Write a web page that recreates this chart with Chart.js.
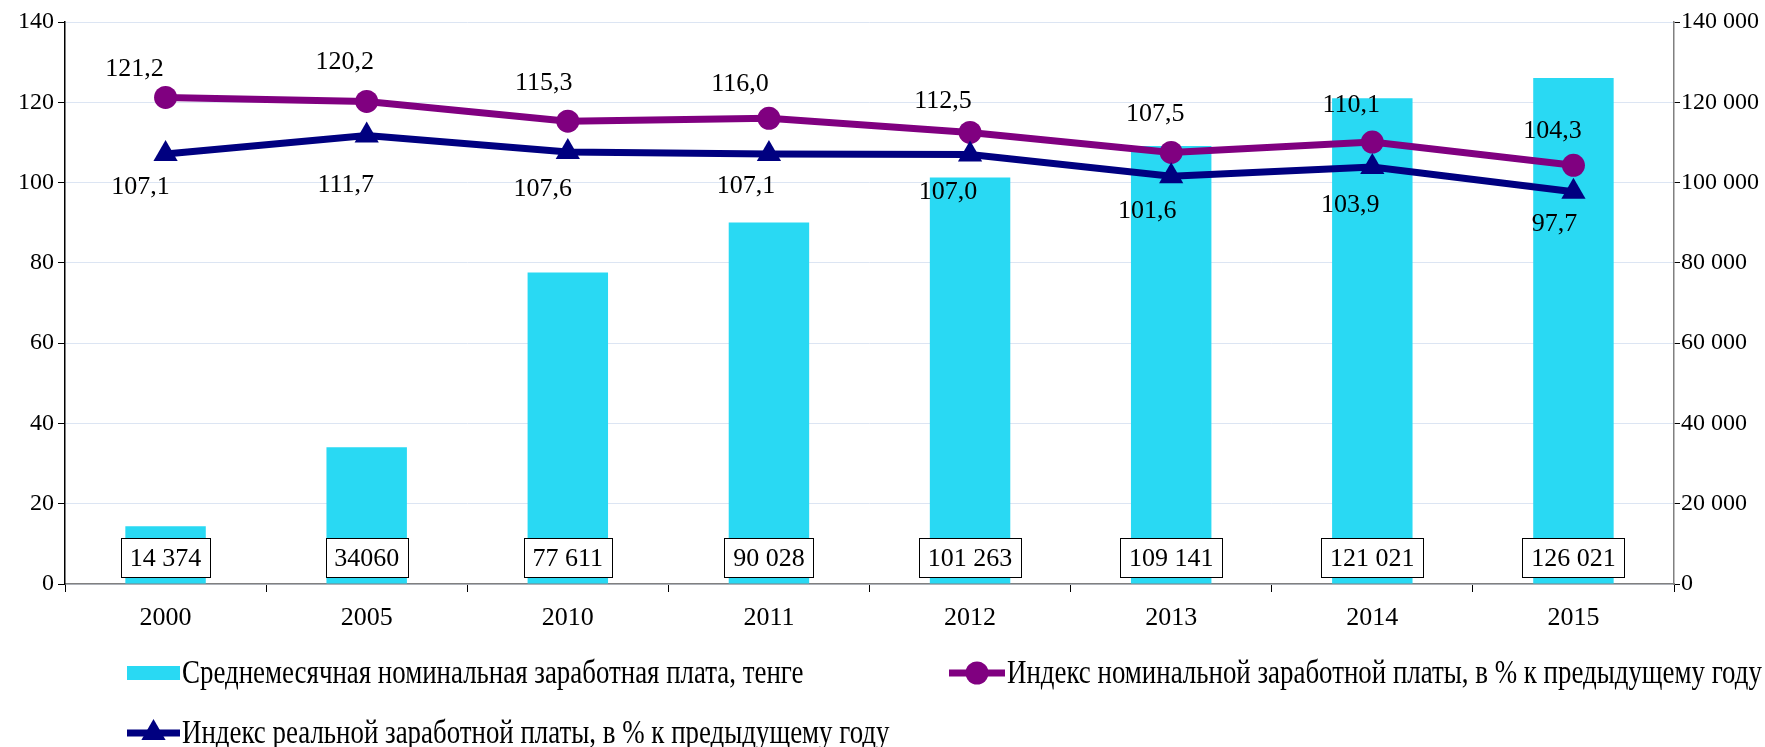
<!DOCTYPE html>
<html>
<head>
<meta charset="utf-8">
<script src="https://cdn.jsdelivr.net/npm/chart.js@4.4.0/dist/chart.umd.min.js"></script>
<style>
  body { margin: 0; background: #fff; }
  #wrap { width: 1765px; height: 747px; }
</style>
</head>
<body>
<div id="wrap"><canvas id="chart" width="1765" height="747"></canvas></div>
<script>
'use strict';

var years = ['2000', '2005', '2010', '2011', '2012', '2013', '2014', '2015'];
var salary = [14374, 34060, 77611, 90028, 101263, 109141, 121021, 126021];
var salaryText = ['14 374', '34060', '77 611', '90 028', '101 263', '109 141', '121 021', '126 021'];
var nominalIndex = [121.2, 120.2, 115.3, 116.0, 112.5, 107.5, 110.1, 104.3];
var realIndex = [107.1, 111.7, 107.6, 107.1, 107.0, 101.6, 103.9, 97.7];
var seriesNames = [
  'Среднемесячная номинальная заработная плата, тенге',
  'Индекс номинальной заработной платы, в % к предыдущему году',
  'Индекс реальной заработной платы, в % к предыдущему году'
];

// where the value labels sit relative to their point (px)
var nominalShift = [[-31, -28], [-22, -39], [-24, -38], [-29, -34], [-27, -31], [-16, -38], [-21, -37], [-21, -34]];
var realShift = [[-25, 33], [-21, 50], [-25, 37], [-23, 32], [-22, 38], [-24, 35], [-22, 38], [-19, 32]];

var FONT = '"Liberation Serif", "Times New Roman", serif';
Chart.defaults.font.family = FONT;
Chart.defaults.color = '#000';

function spaced(v) {
  return String(v).replace(/\B(?=(\d{3})+(?!\d))/g, ' ');
}
function comma(v) {
  return v.toFixed(1).replace('.', ',');
}

var valueLabels = {
  id: 'valueLabels',
  afterDatasetsDraw: function(chart) {
    var ctx = chart.ctx;
    ctx.save();
    ctx.font = '26px ' + FONT;
    ctx.textAlign = 'center';
    ctx.textBaseline = 'middle';
    ctx.fillStyle = '#000';

    // boxed salary labels near the bar base
    var base = chart.scales.y2.getPixelForValue(0);
    chart.getDatasetMeta(0).data.forEach(function(bar, i) {
      var w = Math.round(ctx.measureText(salaryText[i]).width + 17);
      var h = 39;
      var x = Math.round(bar.x - w / 2) + 0.5;
      var y = Math.round(base - 46) + 0.5;
      ctx.fillStyle = '#fff';
      ctx.fillRect(x, y, w, h);
      ctx.strokeStyle = '#000';
      ctx.lineWidth = 1;
      ctx.strokeRect(x, y, w, h);
      ctx.fillStyle = '#000';
      ctx.fillText(salaryText[i], bar.x, y + h / 2 + 1);
    });

    chart.getDatasetMeta(1).data.forEach(function(pt, i) {
      ctx.fillText(comma(nominalIndex[i]), pt.x + nominalShift[i][0], pt.y + nominalShift[i][1]);
    });
    chart.getDatasetMeta(2).data.forEach(function(pt, i) {
      ctx.fillText(comma(realIndex[i]), pt.x + realShift[i][0], pt.y + realShift[i][1]);
    });
    ctx.restore();
  }
};

var bottomLegend = {
  id: 'bottomLegend',
  afterDraw: function(chart, args, opts) {
    var ctx = chart.ctx;
    ctx.save();
    opts.items.forEach(function(item, i) {
      var ds = chart.data.datasets[i];
      var mid = item.x + item.w / 2;
      if (ds.type === 'bar') {
        ctx.fillStyle = ds.backgroundColor;
        ctx.fillRect(item.x, item.y - 7, item.w, 14);
      } else {
        ctx.strokeStyle = ds.borderColor;
        ctx.lineWidth = ds.borderWidth;
        ctx.beginPath();
        ctx.moveTo(item.x, item.y);
        ctx.lineTo(item.x + item.w, item.y);
        ctx.stroke();
        ctx.fillStyle = ds.borderColor;
        Chart.helpers.drawPoint(ctx, {
          pointStyle: ds.pointStyle,
          radius: ds.pointRadius,
          rotation: 0,
          borderWidth: 0
        }, mid, item.y);
      }
      ctx.fillStyle = '#000';
      ctx.font = opts.fontSize + 'px ' + FONT;
      ctx.textAlign = 'left';
      ctx.textBaseline = 'middle';
      ctx.save();
      ctx.translate(item.x + item.w + 2, item.y + 1);
      ctx.scale(opts.squeeze, 1);
      ctx.fillText(ds.label, 0, 0);
      ctx.restore();
    });
    ctx.restore();
  }
};

new Chart(document.getElementById('chart'), {
  data: {
    labels: years,
    datasets: [{
      type: 'bar',
      label: seriesNames[0],
      data: salary,
      yAxisID: 'y2',
      backgroundColor: '#29d9f3',
      barPercentage: 0.4,
      categoryPercentage: 1,
      order: 3
    }, {
      type: 'line',
      label: seriesNames[1],
      data: nominalIndex,
      yAxisID: 'y',
      borderColor: '#800080',
      backgroundColor: '#800080',
      borderWidth: 7,
      pointStyle: 'circle',
      pointRadius: 11.5,
      pointBorderWidth: 0,
      tension: 0,
      order: 2
    }, {
      type: 'line',
      label: seriesNames[2],
      data: realIndex,
      yAxisID: 'y',
      borderColor: '#000080',
      backgroundColor: '#000080',
      borderWidth: 7,
      pointStyle: 'triangle',
      pointRadius: 14,
      pointBorderWidth: 0,
      tension: 0,
      order: 1
    }]
  },
  options: {
    responsive: false,
    animation: false,
    events: [],
    layout: { padding: { top: 22, bottom: 103, left: 0, right: 0 } },
    plugins: {
      legend: { display: false },
      tooltip: { enabled: false },
      bottomLegend: {
        fontSize: 33,
        squeeze: 0.815,
        items: [
          { x: 127, y: 673, w: 53 },
          { x: 949, y: 673, w: 56 },
          { x: 127, y: 733, w: 53 }
        ]
      }
    },
    scales: {
      x: {
        offset: true,
        afterFit: function(s) { s.height = 60; },
        grid: { offset: true, drawOnChartArea: false, color: '#000', tickColor: '#000', tickLength: 8 },
        border: { color: '#808080', width: 1.5 },
        ticks: { font: { size: 26 }, padding: 11, maxRotation: 0 }
      },
      y: {
        position: 'left',
        min: 0,
        max: 140,
        afterFit: function(s) { s.width = 65; },
        ticks: { stepSize: 20, font: { size: 24 }, padding: 4 },
        grid: { color: '#dce5f3', tickColor: '#000', tickLength: 7, lineWidth: 1 },
        border: { color: '#000', width: 1.5 }
      },
      y2: {
        position: 'right',
        min: 0,
        max: 140000,
        afterFit: function(s) { s.width = 91; },
        ticks: { stepSize: 20000, font: { size: 24 }, padding: 1, callback: function(v) { return spaced(v); } },
        grid: { drawOnChartArea: false, tickColor: '#000', tickLength: 6 },
        border: { color: '#808080', width: 1.5 }
      }
    }
  },
  plugins: [valueLabels, bottomLegend]
});
</script>
</body>
</html>
